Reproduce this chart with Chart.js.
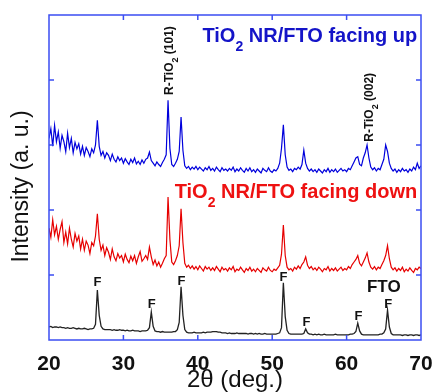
<!DOCTYPE html>
<html lang="en">
<head>
<meta charset="UTF-8">
<title>XRD TiO2 NR/FTO</title>
<script src="https://cdn.jsdelivr.net/npm/chart.js"></script>
<style>
  html, body { margin: 0; padding: 0; background: #fff; }
  .chart-wrapper { position: relative; width: 434px; height: 392px; }
</style>
</head>
<body>
<div class="chart-wrapper"><canvas id="xrdCanvas"></canvas></div>
<script>
// 2theta grid, 20..70 deg every 0.25 deg
const twoTheta = [];
for (let i = 0; i <= 200; i++) twoTheta.push(20 + i * 0.25);

// bare FTO substrate (black)
const ftoOnly = [
  0.20,0.21,0.19,0.20,0.20,0.19,0.20,0.19,
  0.19,0.18,0.19,0.18,0.18,0.19,0.18,0.17,
  0.18,0.17,0.17,0.18,0.17,0.16,0.17,0.17,
  0.18,0.24,0.77,0.38,0.21,0.17,0.16,0.16,
  0.16,0.16,0.15,0.16,0.15,0.15,0.16,0.15,
  0.15,0.14,0.15,0.14,0.14,0.15,0.14,0.14,
  0.14,0.13,0.14,0.14,0.14,0.15,0.19,0.43,
  0.21,0.14,0.13,0.13,0.12,0.13,0.12,0.12,
  0.12,0.12,0.12,0.13,0.13,0.16,0.27,0.82,
  0.38,0.16,0.12,0.11,0.11,0.11,0.12,0.11,
  0.11,0.11,0.11,0.12,0.11,0.12,0.12,0.12,
  0.13,0.13,0.13,0.12,0.12,0.11,0.11,0.11,
  0.10,0.11,0.10,0.10,0.10,0.11,0.10,0.10,
  0.10,0.10,0.10,0.09,0.10,0.10,0.09,0.10,
  0.09,0.10,0.09,0.09,0.10,0.09,0.09,0.09,
  0.09,0.09,0.09,0.10,0.11,0.19,0.88,0.36,
  0.15,0.10,0.09,0.09,0.09,0.09,0.09,0.09,
  0.09,0.10,0.17,0.11,0.09,0.09,0.08,0.09,
  0.08,0.09,0.08,0.08,0.09,0.08,0.08,0.08,
  0.08,0.08,0.09,0.08,0.08,0.08,0.08,0.08,
  0.08,0.08,0.09,0.09,0.10,0.13,0.26,0.14,
  0.09,0.08,0.08,0.08,0.08,0.08,0.08,0.08,
  0.08,0.08,0.09,0.09,0.11,0.17,0.46,0.20,
  0.10,0.08,0.08,0.08,0.08,0.08,0.07,0.08,
  0.08,0.07,0.08,0.08,0.07,0.08,0.08,0.07,
  0.08
];

// TiO2 NR/FTO facing down (red)
const facingDown = [
  1.72,1.58,1.85,1.62,1.75,1.55,1.70,1.82,
  1.50,1.66,1.48,1.72,1.55,1.43,1.64,1.52,
  1.60,1.40,1.55,1.38,1.52,1.46,1.33,1.50,
  1.45,1.60,1.94,1.55,1.38,1.46,1.30,1.42,
  1.35,1.24,1.40,1.28,1.22,1.33,1.26,1.30,
  1.20,1.32,1.24,1.19,1.29,1.22,1.30,1.18,
  1.28,1.36,1.21,1.25,1.30,1.24,1.43,1.28,
  1.16,1.23,1.14,1.20,1.12,1.18,1.25,1.30,
  2.20,1.55,1.20,1.16,1.22,1.30,1.45,2.02,
  1.50,1.18,1.12,1.15,1.10,1.14,1.09,1.13,
  1.08,1.14,1.10,1.06,1.13,1.09,1.12,1.07,
  1.11,1.07,1.13,1.09,1.05,1.12,1.08,1.10,
  1.06,1.11,1.08,1.13,1.05,1.09,1.07,1.12,
  1.08,1.04,1.10,1.07,1.12,1.06,1.09,1.05,
  1.10,1.07,1.04,1.11,1.08,1.06,1.12,1.07,
  1.05,1.09,1.07,1.11,1.15,1.32,1.77,1.30,
  1.12,1.08,1.10,1.06,1.12,1.09,1.14,1.10,
  1.16,1.20,1.28,1.15,1.10,1.13,1.08,1.11,
  1.07,1.12,1.09,1.05,1.10,1.08,1.13,1.06,
  1.10,1.07,1.11,1.06,1.09,1.12,1.07,1.10,
  1.08,1.13,1.10,1.16,1.20,1.24,1.30,1.18,
  1.14,1.20,1.26,1.34,1.20,1.12,1.09,1.13,
  1.08,1.12,1.10,1.16,1.22,1.30,1.45,1.25,
  1.12,1.08,1.11,1.06,1.10,1.07,1.12,1.05,
  1.09,1.06,1.11,1.07,1.04,1.10,1.08,1.12,
  1.10
];

// TiO2 NR/FTO facing up (blue)
const facingUp = [
  3.10,3.25,2.98,3.30,3.05,3.20,2.95,3.15,
  3.05,2.90,3.18,2.96,3.10,2.88,3.04,2.94,
  3.02,2.86,2.98,2.84,2.96,2.90,2.82,2.94,
  2.88,3.00,3.38,2.98,2.84,2.90,2.80,2.88,
  2.84,2.76,2.86,2.78,2.74,2.82,2.76,2.80,
  2.72,2.79,2.74,2.70,2.78,2.73,2.80,2.71,
  2.75,2.70,2.77,2.72,2.78,2.80,2.89,2.76,
  2.72,2.68,2.74,2.70,2.67,2.73,2.78,2.85,
  3.69,2.95,2.70,2.67,2.72,2.78,2.90,3.43,
  2.92,2.68,2.64,2.67,2.62,2.66,2.63,2.67,
  2.62,2.66,2.63,2.60,2.65,2.62,2.67,2.61,
  2.64,2.60,2.66,2.62,2.59,2.65,2.61,2.63,
  2.60,2.64,2.61,2.66,2.59,2.63,2.60,2.65,
  2.61,2.58,2.64,2.60,2.65,2.59,2.62,2.58,
  2.63,2.60,2.57,2.64,2.61,2.59,2.65,2.60,
  2.58,2.62,2.60,2.64,2.72,2.95,3.31,2.85,
  2.66,2.61,2.63,2.59,2.64,2.62,2.66,2.63,
  2.70,2.92,2.72,2.64,2.60,2.63,2.59,2.62,
  2.58,2.63,2.60,2.57,2.62,2.59,2.64,2.58,
  2.62,2.59,2.63,2.58,2.61,2.64,2.60,2.62,
  2.59,2.64,2.62,2.68,2.74,2.80,2.82,2.70,
  2.68,2.80,2.88,3.00,2.80,2.66,2.62,2.65,
  2.60,2.64,2.62,2.70,2.78,3.00,2.90,2.72,
  2.64,2.60,2.63,2.58,2.62,2.59,2.64,2.60,
  2.62,2.58,2.63,2.60,2.66,2.62,2.72,2.64,
  2.68
];

// FTO reflections marked "F"
const fPeakAngles = [26.5, 33.8, 37.8, 51.5, 54.6, 61.6, 65.6];
const fLabelLevels = [0.83, 0.49, 0.85, 0.91, 0.215, 0.31, 0.49];

const FONT = '"Liberation Sans", Arial, sans-serif';
const FRAME = '#3b4ef2';

function pts(vals) {
  return twoTheta.map((a, i) => ({ x: a, y: vals[i] }));
}

// draws text with a subscript part: parts = [[text, isSub], ...]
function drawRich(ctx, parts, x, y, size, align) {
  const subSize = Math.round(size * 0.72);
  let total = 0;
  parts.forEach(p => {
    ctx.font = 'bold ' + (p[1] ? subSize : size) + 'px ' + FONT;
    total += ctx.measureText(p[0]).width;
  });
  let cx = align === 'right' ? x - total : x;
  ctx.textAlign = 'left';
  ctx.textBaseline = 'alphabetic';
  parts.forEach(p => {
    ctx.font = 'bold ' + (p[1] ? subSize : size) + 'px ' + FONT;
    ctx.fillText(p[0], cx, p[1] ? y + size * 0.45 : y);
    cx += ctx.measureText(p[0]).width;
  });
}

const framePlugin = {
  id: 'framePlugin',
  afterDraw(chart) {
    const ctx = chart.ctx;
    const xs = chart.scales.x, ys = chart.scales.y;
    const { left, right, top, bottom } = chart.chartArea;
    ctx.save();
    ctx.strokeStyle = FRAME;
    ctx.lineWidth = 1.5;
    ctx.strokeRect(left, top, right - left, bottom - top);
    ctx.beginPath();
    [30, 40, 50, 60].forEach(v => {
      const px = xs.getPixelForValue(v);
      ctx.moveTo(px, bottom); ctx.lineTo(px, bottom - 5);
      ctx.moveTo(px, top); ctx.lineTo(px, top + 5);
    });
    [1, 2, 3, 4].forEach(v => {
      const py = ys.getPixelForValue(v);
      ctx.moveTo(left, py); ctx.lineTo(left + 5, py);
      ctx.moveTo(right, py); ctx.lineTo(right - 5, py);
    });
    ctx.stroke();

    // y axis title
    ctx.save();
    ctx.fillStyle = '#111';
    ctx.font = '23px ' + FONT;
    ctx.textAlign = 'center';
    ctx.textBaseline = 'alphabetic';
    ctx.translate(28, (top + bottom) / 2 + 9);
    ctx.rotate(-Math.PI / 2);
    ctx.fillText('Intensity (a. u.)', 0, 0);
    ctx.restore();

    // F markers
    ctx.fillStyle = '#111';
    ctx.font = 'bold 13px ' + FONT;
    ctx.textAlign = 'center';
    ctx.textBaseline = 'alphabetic';
    fPeakAngles.forEach((a, i) => {
      ctx.fillText('F', xs.getPixelForValue(a), ys.getPixelForValue(fLabelLevels[i]));
    });
    ctx.font = 'bold 17px ' + FONT;
    ctx.fillText('FTO', xs.getPixelForValue(65.0), ys.getPixelForValue(0.74));

    // series labels
    ctx.fillStyle = '#1414c8';
    drawRich(ctx, [['TiO', false], ['2', true], [' NR/FTO facing up', false]],
      xs.getPixelForValue(69.5), ys.getPixelForValue(4.585), 20, 'right');
    ctx.fillStyle = '#ee1111';
    drawRich(ctx, [['TiO', false], ['2', true], [' NR/FTO facing down', false]],
      xs.getPixelForValue(69.5), ys.getPixelForValue(2.185), 20, 'right');

    // rutile reflections, vertical text
    ctx.fillStyle = '#111';
    [[36.67, 3.77, '(101)'], [63.55, 3.05, '(002)']].forEach(r => {
      ctx.save();
      ctx.translate(xs.getPixelForValue(r[0]), ys.getPixelForValue(r[1]));
      ctx.rotate(-Math.PI / 2);
      drawRich(ctx, [['R-TiO', false], ['2', true], [' ' + r[2], false]], 0, 0, 12, 'left');
      ctx.restore();
    });
    ctx.restore();
  }
};

new Chart(document.getElementById('xrdCanvas').getContext('2d'), {
  type: 'line',
  data: {
    datasets: [
      { label: 'FTO', data: pts(ftoOnly), borderColor: '#222', borderWidth: 1.3 },
      { label: 'TiO2 NR/FTO facing down', data: pts(facingDown), borderColor: '#e60000', borderWidth: 1.2 },
      { label: 'TiO2 NR/FTO facing up', data: pts(facingUp), borderColor: '#0000dc', borderWidth: 1.2 }
    ]
  },
  options: {
    responsive: true,
    maintainAspectRatio: false,
    animation: false,
    elements: { point: { radius: 0 }, line: { tension: 0 } },
    layout: { padding: { top: 15, right: 13, left: 0, bottom: 0 } },
    scales: {
      x: {
        type: 'linear', min: 20, max: 70,
        grid: { display: false, drawTicks: false },
        border: { display: false },
        ticks: { stepSize: 10, color: '#111', padding: 12, font: { family: FONT, size: 21, weight: 'bold' } },
        title: { display: true, text: '2θ (deg.)', color: '#111', padding: 0,
          font: { family: FONT, size: 24, lineHeight: 1.0 } },
        afterFit(scale) { scale.height = 52; scale.paddingLeft = 0; scale.paddingRight = 0; }
      },
      y: {
        min: 0, max: 5,
        grid: { display: false, drawTicks: false },
        border: { display: false },
        ticks: { display: false },
        title: { display: false },
        afterFit(scale) { scale.width = 49; }
      }
    },
    plugins: { legend: { display: false }, tooltip: { enabled: false } }
  },
  plugins: [framePlugin]
});
</script>
</body>
</html>
